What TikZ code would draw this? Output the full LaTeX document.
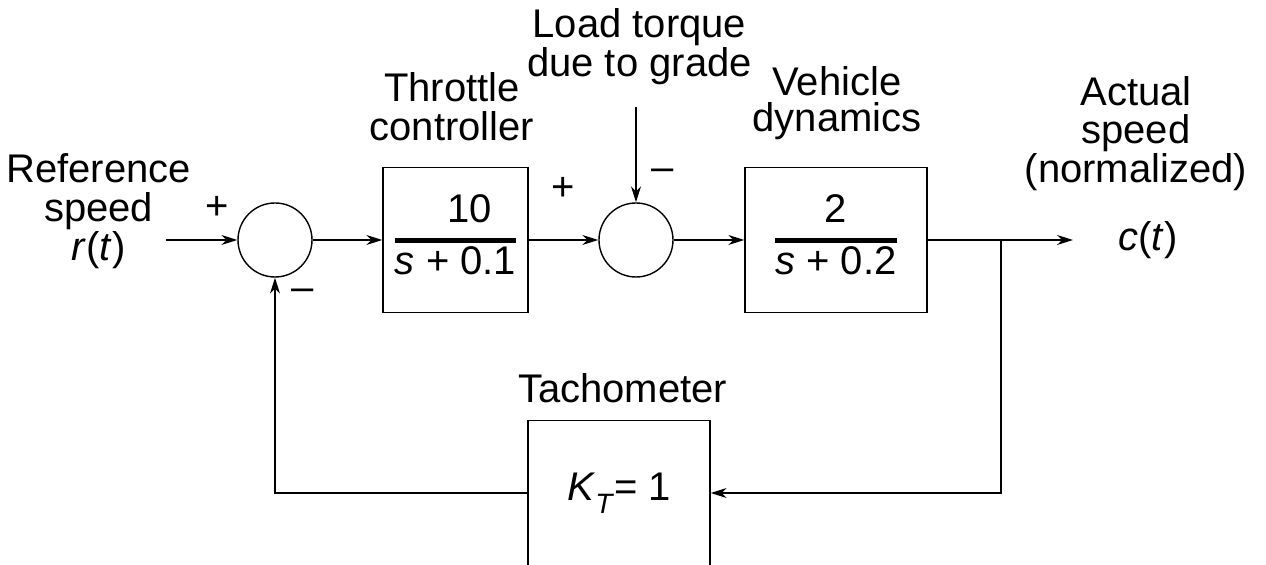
\documentclass[tikz,border=0pt]{standalone}
\usepackage{fontspec}
\setmainfont{Liberation Sans}
\usetikzlibrary{arrows.meta, positioning}

\newcommand{\blockfrac}[2]{{\setlength{\arrayrulewidth}{2.5pt}%
  \begin{tabular}{@{}c@{}}#1\\[2.5pt]\hline\rule{0pt}{15.6pt}#2\end{tabular}}}

\begin{document}
\begin{tikzpicture}[
  x=0.5pt, y=-0.5pt,
  line width=0.7pt,
  font={\fontsize{20}{18}\selectfont},
  lead/.style={font={\fontsize{20}{#1}\selectfont}},
  block/.style={draw, minimum width=72.5pt, minimum height=72.5pt, inner sep=0pt},
  sumnode/.style={draw, circle, minimum size=37pt, inner sep=0pt},
  txt/.style={align=center, inner sep=0pt},
  arrow/.style={-{Stealth[length=8pt, width=5pt]}}
]
\useasboundingbox (0,0) rectangle (1266,565);
\clip (0,0) rectangle (1266,565);

% forward path
\node[sumnode] (sum1) at (275,240) {};
\node[block] (ctrl) at (455.5,240) {\blockfrac{\hspace*{14pt}10}{\textit{s} + 0.1}};
\node[sumnode] (sum2) at (636,240) {};
\node[block, minimum width=91pt] (plant) at (836,240) {\blockfrac{2}{\textit{s} + 0.2}};
\node[block, minimum width=91pt] (tacho) at (619,493) {\textit{K}\raisebox{-6.5pt}{\fontsize{14}{14}\selectfont\textit{T}}= 1};

\coordinate (in) at (166,240);
\coordinate (load) at (636,107);
\coordinate (branch) at (1001,240);
\coordinate (out) at (1073,240);

% labels
\node[txt, lead=19.5pt] (reftxt) at (98.5,211) {Reference\\speed\\\textit{r}(\textit{t})};
\node[txt, lead=19.5pt] (ctrltxt) at (452,107) {Throttle\\controller};
\node[txt] (loadtxt) at (639.5,46.7) {Load torque\\due to grade};
\node[txt] (planttxt) at (837,103) {Vehicle\\dynamics};
\node[txt, lead=19.25pt] (outtxt) at (1136,133.4) {Actual\\speed\\(normalized)};
\node[txt] (ctxt) at (1148,240) {\textit{c}(\textit{t})};
\node[txt] (tachotxt) at (622.5,388.5) {Tachometer};

\node[txt] (plus1) at (217,208) {+};
\node[txt] (minus1) at (303,295) {--};
\node[txt] (plus2) at (563,189) {+};
\node[txt] (minus2) at (663,175) {--};

% connectors
\draw[arrow] (in) -- (sum1);
\draw[arrow] (sum1) -- (ctrl);
\draw[arrow] (ctrl) -- (sum2);
\draw[arrow] (load) -- (sum2);
\draw[arrow] (sum2) -- (plant);
\draw[arrow] (plant) -- (out);
\draw[arrow] (branch) |- (tacho);
\draw[arrow] (tacho) -| (sum1);
\end{tikzpicture}
\end{document}
